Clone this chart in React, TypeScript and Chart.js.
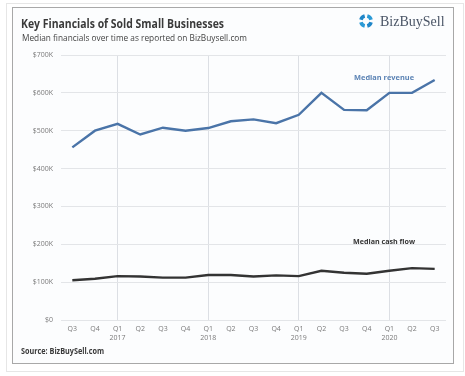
import React, { useEffect, useRef } from "react";
import { Chart, registerables } from "chart.js";

Chart.register(...registerables);

const quarters = ["Q3", "Q4", "Q1", "Q2", "Q3", "Q4", "Q1", "Q2", "Q3", "Q4", "Q1", "Q2", "Q3", "Q4", "Q1", "Q2", "Q3"];
const years = ["", "", "2017", "", "", "", "2018", "", "", "", "2019", "", "", "", "2020", "", ""];
const medianRevenue = [456000, 500000, 518000, 490000, 508000, 500000, 507000, 525000, 530000, 520000, 542000, 600000, 555000, 554000, 600000, 600000, 634000];
const medianCashFlow = [105000, 109000, 116000, 115000, 112000, 112000, 119000, 119000, 115000, 118000, 116000, 130000, 125000, 122000, 130000, 137000, 135000];
const yTicks = [0, 100000, 200000, 300000, 400000, 500000, 600000, 700000];

const W = 465;
const H = 376;

function fitText(ctx: CanvasRenderingContext2D, text: string, x: number, y: number, maxW: number, align: "left" | "center" = "left") {
  const w = ctx.measureText(text).width;
  const s = w > maxW ? maxW / w : 1;
  ctx.save();
  ctx.translate(x, y);
  ctx.scale(s, 1);
  ctx.textAlign = align;
  ctx.fillText(text, 0, 0);
  ctx.restore();
}

const decorPlugin = {
  id: "decor",
  beforeDraw(chart: any) {
    const ctx = chart.ctx;
    ctx.save();
    ctx.fillStyle = "#ffffff";
    ctx.fillRect(0, 0, W, H);
    ctx.strokeStyle = "#e6e6e6";
    ctx.lineWidth = 1;
    ctx.strokeRect(6.5, 3.5, 457, 368);
    ctx.fillStyle = "#fcfdfe";
    ctx.fillRect(12, 7, 441, 357);
    ctx.strokeStyle = "#a8a8a8";
    ctx.strokeRect(12.5, 7.5, 441, 356);
    ctx.restore();
  },
  afterDraw(chart: any) {
    const ctx = chart.ctx;
    ctx.save();
    ctx.textBaseline = "middle";
    ctx.fillStyle = "#3a3a3a";
    ctx.font = "bold 12.5px 'Open Sans', sans-serif";
    fitText(ctx, "Key Financials of Sold Small Businesses", 21, 24, 203);
    ctx.fillStyle = "#444";
    ctx.font = "8.8px 'Open Sans', sans-serif";
    fitText(ctx, "Median financials over time as reported on BizBuysell.com", 22, 38.5, 225);
    ctx.fillStyle = "#3a3a3a";
    ctx.font = "bold 8.2px 'Open Sans', sans-serif";
    fitText(ctx, "Source: BizBuySell.com", 21, 352, 83);

    // Logo
    ctx.textAlign = "left";
    ctx.font = "14px 'Liberation Serif', serif";
    ctx.fillStyle = "#4a5566";
    ctx.fillText("BizBuySell", 380, 22);
    const cx = 366, cy = 21, r = 5.2;
    ctx.lineWidth = 3.6;
    const cols = ["#1f86c8", "#2a9ad6", "#1f86c8", "#2a9ad6"];
    for (let i = 0; i < 4; i++) {
      const a0 = (i * Math.PI) / 2 + 0.25;
      ctx.beginPath();
      ctx.strokeStyle = cols[i];
      ctx.arc(cx, cy, r, a0, a0 + Math.PI / 2 - 0.5);
      ctx.stroke();
    }

    // Series annotations
    const xs = chart.scales.x;
    const ys = chart.scales.y;
    const ax = (xs.getPixelForValue(13) + xs.getPixelForValue(14)) / 2 + 6;
    ctx.font = "bold 7.5px 'Open Sans', sans-serif";
    ctx.fillStyle = "#5a82b4";
    fitText(ctx, "Median revenue", ax, ys.getPixelForValue(640000), 60, "center");
    ctx.fillStyle = "#333";
    fitText(ctx, "Median cash flow", ax, ys.getPixelForValue(206000), 62, "center");
    ctx.restore();
  },
};

export default function App() {
  const ref = useRef<HTMLCanvasElement>(null);
  useEffect(() => {
    if (!ref.current) return;
    const labels = quarters.map((q, i) => (years[i] ? [q, years[i]] : q));
    const chart = new Chart(ref.current, {
      type: "line",
      data: {
        labels,
        datasets: [
          {
            label: "Median revenue",
            data: medianRevenue,
            borderColor: "#4a74a8",
            borderWidth: 2.4,
            pointRadius: 0,
            tension: 0,
          },
          {
            label: "Median cash flow",
            data: medianCashFlow,
            borderColor: "#333333",
            borderWidth: 2.4,
            pointRadius: 0,
            tension: 0,
          },
        ],
      },
      options: {
        responsive: false,
        animation: false,
        devicePixelRatio: 1,
        layout: { padding: { left: 0, right: 19, top: 55, bottom: 0 } },
        plugins: { legend: { display: false }, tooltip: { enabled: false }, title: { display: false } },
        scales: {
          x: {
            offset: true,
            grid: {
              offset: false,
              color: (c: any) => (c.tick && years[c.index] ? "#dcdfe4" : "rgba(0,0,0,0)"),
              drawTicks: false,
              lineWidth: 1,
            },
            border: { display: false },
            ticks: {
              autoSkip: false,
              maxRotation: 0,
              color: "#7a7a7a",
              padding: 5,
              font: { family: "'Open Sans', sans-serif", size: 7 },
            },
            afterFit: (s: any) => {
              s.height = 56;
            },
          },
          y: {
            min: 0,
            max: 700000,
            afterBuildTicks: (s: any) => {
              s.ticks = yTicks.map((v) => ({ value: v }));
            },
            grid: { color: "#e3e5e8", drawTicks: false },
            border: { display: false },
            ticks: {
              color: "#7a7a7a",
              padding: 8,
              font: { family: "'Open Sans', sans-serif", size: 7 },
              callback: (v: any) => (v === 0 ? "$0" : "$" + v / 1000 + "K"),
            },
            afterFit: (s: any) => {
              s.width = 61;
            },
          },
        },
      },
      plugins: [decorPlugin],
    });
    return () => chart.destroy();
  }, []);
  return (
    <div style={{ position: "fixed", left: 0, top: 0, width: W, height: H }}>
      <canvas ref={ref} width={W} height={H} style={{ width: W, height: H, display: "block" }} />
    </div>
  );
}
